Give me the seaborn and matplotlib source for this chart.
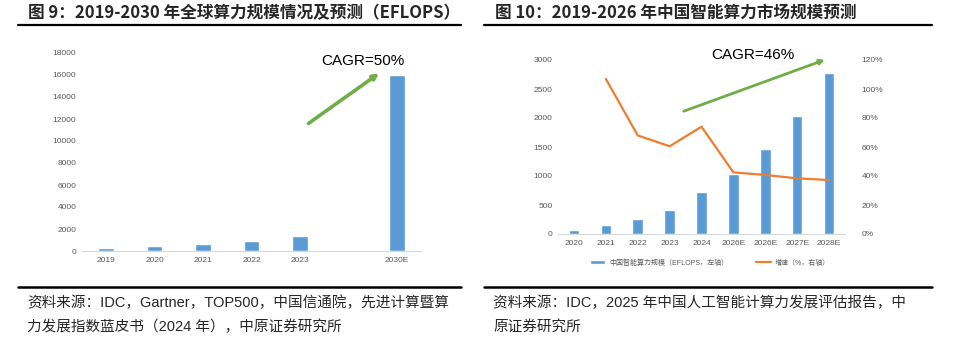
import numpy as np
import pandas as pd
import seaborn as sns
import matplotlib.pyplot as plt
from matplotlib.lines import Line2D
from matplotlib.ticker import FuncFormatter

# 图9 数据
years_9 = ['2019', '2020', '2021', '2022', '2023', '', '2030E']
power_9 = [300, 430, 610, 880, 1360, np.nan, 16000]

# 图10 数据
years_10 = ['2020', '2021', '2022', '2023', '2024', '2026E', '2026E', '2027E', '2028E']
power_10 = [75, 150, 255, 415, 725, 1037, 1460, 2027, 2781]
growth_10 = [np.nan, 107, 68, 60.5, 74, 42.5, 40.7, 38.4, 37.2]

sns.set_theme(style='white')
plt.rcParams['font.family'] = ['Liberation Sans', 'Noto Sans CJK SC', 'DejaVu Sans']

BLUE = '#5B9BD5'
ORANGE = '#ED7D31'
GREEN = '#70AD47'
TICK = '#595959'

fig = plt.figure(figsize=(9.55, 3.55), dpi=100)
W, H = 955, 355


def fx(px):
    return px / W


def fy(py):
    return 1 - py / H


def style_ax(ax):
    for s in ['top', 'right', 'left']:
        ax.spines[s].set_visible(False)
    ax.spines['bottom'].set_color('#D9D9D9')
    ax.spines['bottom'].set_linewidth(0.8)
    ax.tick_params(axis='both', length=0, labelsize=6, labelcolor=TICK, pad=4)
    ax.set_xlabel('')
    ax.set_ylabel('')
    ax.grid(False)


# ---------- 左图 ----------
ax1 = fig.add_axes([fx(82), fy(251), fx(421 - 82), fy(53) - fy(251)])
df9 = pd.DataFrame({'idx': range(len(years_9)), 'val': power_9})
sns.barplot(data=df9, x='idx', y='val', color=BLUE, width=0.32, saturation=1, ax=ax1)
ax1.set_xlim(-0.5, len(years_9) - 0.5)
ax1.set_ylim(0, 18000)
ax1.set_yticks(range(0, 18001, 2000))
ax1.set_xticks(range(len(years_9)))
ax1.set_xticklabels(years_9)
style_ax(ax1)
ax1.annotate('', xy=(5.68, 16300), xytext=(4.13, 11450), annotation_clip=False,
             arrowprops=dict(arrowstyle='-|>', color=GREEN, lw=2.6, mutation_scale=8))
ax1.text(5.3, 17300, 'CAGR=50%', ha='center', va='center', fontsize=11, color='black')

# ---------- 右图 ----------
ax2 = fig.add_axes([fx(558), fy(234), fx(845 - 558), fy(60) - fy(234)])
df10 = pd.DataFrame({'idx': range(len(years_10)), 'val': power_10, 'g': growth_10})
sns.barplot(data=df10, x='idx', y='val', color=BLUE, width=0.33, saturation=1, ax=ax2,
            label='中国智能算力规模（EFLOPS，左轴）')
ax2.set_xlim(-0.5, len(years_10) - 0.5)
ax2.set_ylim(0, 3000)
ax2.set_yticks(range(0, 3001, 500))
ax2.set_xticks(range(len(years_10)))
ax2.set_xticklabels(years_10)
style_ax(ax2)

ax3 = ax2.twinx()
sns.lineplot(data=df10, x='idx', y='g', color=ORANGE, lw=1.6, ax=ax3, label='增速（%，右轴）')
ax3.set_ylim(0, 120)
ax3.set_yticks(range(0, 121, 20))
ax3.yaxis.set_major_formatter(FuncFormatter(lambda v, p: f'{int(v)}%'))
for s in ['top', 'right', 'left', 'bottom']:
    ax3.spines[s].set_visible(False)
ax3.tick_params(axis='y', length=0, labelsize=6, labelcolor=TICK, pad=12)
ax3.set_ylabel('')

h1, l1 = ax2.get_legend_handles_labels()
h2, l2 = ax3.get_legend_handles_labels()
for a in (ax2, ax3):
    if a.get_legend() is not None:
        a.get_legend().remove()

ax2.annotate('', xy=(7.95, 3020), xytext=(3.36, 2100), annotation_clip=False,
             arrowprops=dict(arrowstyle='-|>', color=GREEN, lw=2.0, mutation_scale=7))
ax2.text(5.6, 3090, 'CAGR=46%', ha='center', va='center', fontsize=11, color='black')

fig.legend(h1 + h2, l1 + l2, loc='center', bbox_to_anchor=(fx(710), fy(263)), ncol=2,
           frameon=False, fontsize=5, labelcolor=TICK, handlelength=2.2, handleheight=0.5,
           columnspacing=4, handletextpad=0.5)

# ---------- 标题、分隔线、来源 ----------
title_font = ['Noto Sans CJK SC', 'DejaVu Sans']
fig.text(fx(28), fy(13), '图 9：2019-2030 年全球算力规模情况及预测（EFLOPS）',
         fontsize=12, fontweight='bold', va='center', ha='left', family=title_font)
fig.text(fx(495), fy(13), '图 10：2019-2026 年中国智能算力市场规模预测',
         fontsize=12, fontweight='bold', va='center', ha='left', family=title_font)

for x0, x1 in [(18, 461), (484, 932)]:
    fig.add_artist(Line2D([fx(x0), fx(x1)], [fy(25), fy(25)], color='black', lw=1.6))
    fig.add_artist(Line2D([fx(x0), fx(x1)], [fy(287), fy(287)], color='black', lw=1.8))

src_font = ['Liberation Sans', 'Noto Sans CJK SC']
fig.text(fx(27), fy(303), '资料来源：IDC，Gartner，TOP500，中国信通院，先进计算暨算',
         fontsize=10.5, va='center', ha='left', family=src_font)
fig.text(fx(27), fy(327), '力发展指数蓝皮书（2024 年），中原证券研究所',
         fontsize=10.5, va='center', ha='left', family=src_font)
fig.text(fx(493), fy(303), '资料来源：IDC，2025 年中国人工智能计算力发展评估报告，中',
         fontsize=10.5, va='center', ha='left', family=src_font)
fig.text(fx(493), fy(327), '原证券研究所',
         fontsize=10.5, va='center', ha='left', family=src_font)

fig.savefig('out.png', dpi=100)
